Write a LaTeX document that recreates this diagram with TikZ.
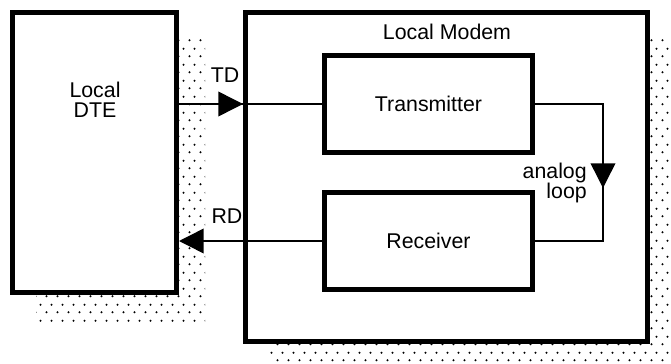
\documentclass[tikz,border=0pt]{standalone}
\usepackage{fontspec}
\setmainfont{Liberation Sans}
\usepackage{tikz}
\usetikzlibrary{arrows.meta,calc,patterns,backgrounds}
\pgfdeclarepatternformonly{shadowdots}{\pgfpointorigin}{\pgfqpoint{8.25pt}{12pt}}{\pgfqpoint{8.25pt}{12pt}}{%
  \pgfpathcircle{\pgfqpoint{2pt}{3pt}}{0.9pt}%
  \pgfpathcircle{\pgfqpoint{6.125pt}{9pt}}{0.9pt}%
  \pgfusepath{fill}}

\begin{document}
\begin{tikzpicture}[x=0.75pt,y=-0.75pt,>={Triangle[length=18.5pt,width=18.5pt]},
  box/.style={draw,line width=3.75pt,fill=white,inner sep=0pt},
  link/.style={line width=1.1pt},
  lbl/.style={font=\fontsize{16pt}{15pt}\selectfont,inner sep=0pt}]
  \useasboundingbox (0,0) rectangle (671,364);
  \node[box,minimum width=123pt,minimum height=210pt] (dte) at (94.5,152.5) {};
  \node[box,minimum width=301.5pt,minimum height=246.75pt] (modem) at (446.5,177) {};
  \node[box,minimum width=156pt,minimum height=72.75pt] (tx) at (428.5,104) {};
  \node[box,minimum width=156pt,minimum height=72.75pt] (rx) at (428.5,241) {};
  \begin{scope}[on background layer]
    \fill[pattern=shadowdots] ([shift={(26,26)}]dte.north west) rectangle ([shift={(26,26)}]dte.south east);
    \fill[pattern=shadowdots] ([shift={(26,26)}]modem.north west) rectangle ([shift={(26,26)}]modem.south east);
  \end{scope}
  \node[lbl,align=center] (dtelbl) at (95,99.5) {Local\\DTE};
  \node[lbl] (modemlbl) at (447,32) {Local Modem};
  \node[lbl] (txlbl) at (tx) {Transmitter};
  \node[lbl] (rxlbl) at (rx) {Receiver};
  \node[lbl] (tdlbl) at (225,75) {TD};
  \node[lbl] (rdlbl) at (227,216) {RD};
  \node[lbl,align=right,anchor=east] (looplbl) at (587,182.5) {analog\\loop};
  \coordinate (bend) at (603,0);
  \coordinate (looptip) at (603,188);
  \draw[link] (dte.east |- tx.west) -- (tx.west);
  \draw[link,->] (dte.east |- tx.west) -- (modem.west |- tx.west);
  \draw[link,->] (rx.west) -- (dte.east |- rx.west);
  \draw[link] (tx.east) -- (bend |- tx.east) -- (bend |- rx.east) -- (rx.east);
  \draw[link,->] (bend |- tx.east) -- (looptip);
\end{tikzpicture}
\end{document}
